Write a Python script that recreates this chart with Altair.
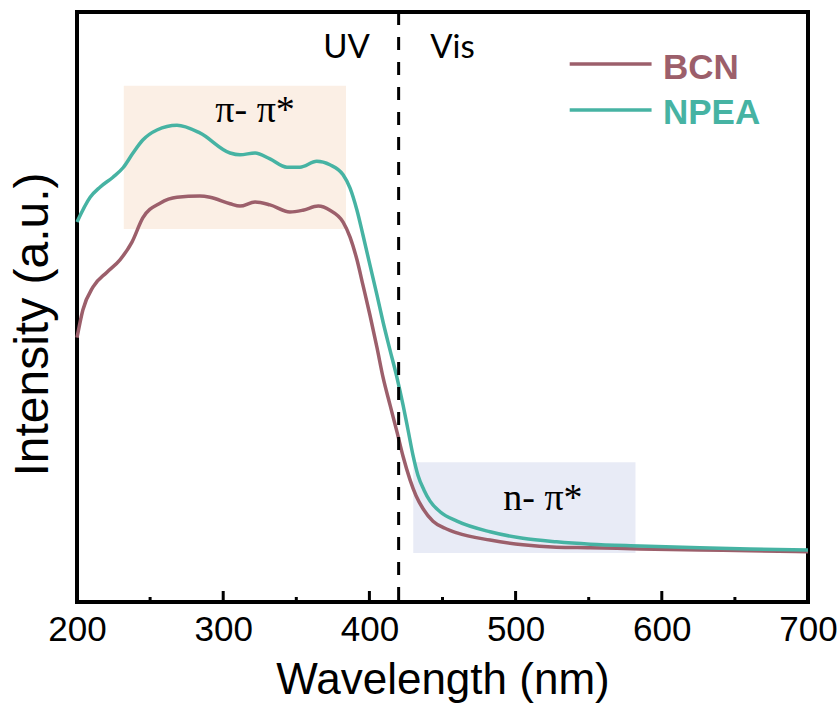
import altair as alt
import pandas as pd

# ---- data ----
bcn_wl = [200, 204, 211, 220.5, 229.4, 237.6, 245, 256.8, 268.4, 284, 291, 304.7, 311.5,
          321.8, 332, 345.6, 354.5, 365, 373, 382, 386.7, 391.5, 395.6, 400.4, 405.2,
          409.3, 414.1, 418.9, 423.0, 427.8, 431.9, 436.7, 443.5, 451.7, 459.9, 482.5,
          505, 528, 551, 585, 626, 660, 700]
bcn_int = [44.8, 49.5, 53.4, 55.9, 58.0, 61.0, 65.1, 67.6, 68.6, 68.8, 68.6, 67.5, 67.1,
           67.8, 67.3, 66.1, 66.4, 67.1, 66.4, 64.4, 61.9, 58.0, 53.7, 48.6, 43.1,
           38.1, 33.4, 28.8, 24.7, 20.7, 18.0, 15.8, 13.7, 12.5, 11.7, 10.5,
           9.7, 9.3, 9.2, 9.0, 8.8, 8.7, 8.5]

npea_wl = [200, 209, 215.7, 224.6, 231.5, 238.3, 245, 254.7, 268.4, 284, 304.7, 311.5,
           321.8, 332, 343.6, 352.5, 364, 373, 382, 386.7, 391.5, 395.6, 400.4, 405.2,
           409.3, 414.1, 418.9, 423.0, 426.4, 429.8, 433.2, 437.3, 441.5, 448.3, 459.9,
           482.5, 505, 528, 551, 585, 626, 660, 700]
npea_int = [64.4, 68.6, 70.3, 72.0, 73.6, 76.1, 78.3, 80.0, 80.8, 79.5, 76.1, 75.8,
            76.1, 75.1, 73.7, 73.7, 74.7, 74.1, 72.4, 70.2, 66.4, 62.2, 57.1, 52.0,
            47.5, 42.7, 38.0, 33.4, 29.2, 24.9, 21.5, 19.0, 17.1, 15.3, 13.7,
            11.9, 10.8, 10.2, 9.8, 9.5, 9.2, 9.0, 8.8]

series_names = ["BCN", "NPEA"]
series_colors = ["#9c5f6b", "#46b3a3"]

major_ticks = [200, 300, 400, 500, 600, 700]
minor_ticks = [250, 350, 450, 550, 650]

# shaded regions
region_x1 = [232, 430]
region_x2 = [384, 582]
region_y1 = [63.2, 8.3]
region_y2 = [87.5, 23.7]
region_colors = ["#fbefe5", "#e8ebf6"]

# annotations
ann_text = ["π- π*", "n- π*"]
ann_x = [321.8, 518.7]
ann_y = [81.4, 15.6]

band_text = ["UV", "Vis"]
band_x = [384.3, 456.8]
band_y = [92.2, 92.2]

divider_wl = [420]

legend_y = [91.2, 83.4]
legend_text_y = [88.7, 81.1]
legend_x1 = 537
legend_x2 = 593
legend_text_x = 600.8

# ---- build tables ----
lines_df = pd.concat([
    pd.DataFrame({"wl": bcn_wl, "inten": bcn_int, "series": "BCN"}),
    pd.DataFrame({"wl": npea_wl, "inten": npea_int, "series": "NPEA"}),
])
regions_df = pd.DataFrame({"x1": region_x1, "x2": region_x2, "y1": region_y1,
                           "y2": region_y2, "c": region_colors})
ann_df = pd.DataFrame({"t": ann_text, "x": ann_x, "y": ann_y})
band_df = pd.DataFrame({"t": band_text, "x": band_x, "y": band_y})
div_df = pd.DataFrame({"x": divider_wl})
major_df = pd.DataFrame({"x": major_ticks})
minor_df = pd.DataFrame({"x": minor_ticks})
leg_df = pd.DataFrame({"series": series_names, "y": legend_y, "ty": legend_text_y,
                       "x1": [legend_x1] * 2, "x2": [legend_x2] * 2,
                       "tx": [legend_text_x] * 2})

W, H = 731, 590
xscale = alt.Scale(domain=[200, 700], nice=False, zero=False)
yscale = alt.Scale(domain=[0, 100], nice=False, zero=False)
cscale = alt.Scale(domain=series_names, range=series_colors)

xax = alt.Axis(values=major_ticks, ticks=False, grid=False, domain=False,
               labelFontSize=35, labelFont="Liberation Sans", labelColor="black",
               labelPadding=10, labelFlush=False, labelOverlap=False,
               title="Wavelength (nm)", titleFontSize=44, titleFont="Liberation Sans",
               titleFontWeight="normal", titleColor="black", titlePadding=11)
yax = alt.Axis(labels=False, ticks=False, grid=False, domain=False,
               title="Intensity (a.u.)", titleFontSize=48, titleFont="Liberation Sans",
               titleFontWeight="normal", titleColor="black", titlePadding=20,
               titleY=312)

regions = alt.Chart(regions_df).mark_rect().encode(
    x=alt.X("x1:Q", scale=xscale, axis=xax),
    x2="x2:Q",
    y=alt.Y("y1:Q", scale=yscale, axis=yax),
    y2="y2:Q",
    color=alt.Color("c:N", scale=None),
)

lines = alt.Chart(lines_df).mark_line(strokeWidth=3.5, interpolate="monotone").encode(
    x=alt.X("wl:Q", scale=xscale),
    y=alt.Y("inten:Q", scale=yscale),
    color=alt.Color("series:N", scale=cscale, legend=None),
    detail="series:N",
)

divider = alt.Chart(div_df).mark_rule(color="black", strokeWidth=3, strokeDash=[13, 12]).encode(
    x=alt.X("x:Q", scale=xscale),
    y=alt.value(0), y2=alt.value(H),
)

maj = alt.Chart(major_df).mark_rule(color="black", strokeWidth=3).encode(
    x=alt.X("x:Q", scale=xscale), y=alt.value(H), y2=alt.value(H - 11))
mino = alt.Chart(minor_df).mark_rule(color="black", strokeWidth=3).encode(
    x=alt.X("x:Q", scale=xscale), y=alt.value(H), y2=alt.value(H - 5))

ann = alt.Chart(ann_df).mark_text(font="Liberation Serif", fontSize=38, align="center",
                                  baseline="alphabetic", color="black").encode(
    x=alt.X("x:Q", scale=xscale), y=alt.Y("y:Q", scale=yscale), text="t:N")

bands = alt.Chart(band_df).mark_text(font="Lato", fontSize=33, align="center",
                                     baseline="alphabetic", color="black").encode(
    x=alt.X("x:Q", scale=xscale), y=alt.Y("y:Q", scale=yscale), text="t:N")

leg_lines = alt.Chart(leg_df).mark_rule(strokeWidth=3.5).encode(
    x=alt.X("x1:Q", scale=xscale), x2="x2:Q",
    y=alt.Y("y:Q", scale=yscale),
    color=alt.Color("series:N", scale=cscale, legend=None))
leg_text = alt.Chart(leg_df).mark_text(font="Liberation Sans", fontSize=35, fontWeight="bold",
                                       align="left", baseline="alphabetic").encode(
    x=alt.X("tx:Q", scale=xscale), y=alt.Y("ty:Q", scale=yscale), text="series:N",
    color=alt.Color("series:N", scale=cscale, legend=None))

chart = alt.layer(regions, lines, divider, maj, mino, ann, bands, leg_lines, leg_text).properties(
    width=W, height=H,
    autosize=alt.AutoSizeParams(type="none"),
    padding={"left": 77, "top": 12, "right": 32, "bottom": 102},
    background="white",
).configure_view(stroke="black", strokeWidth=4)

chart.save("out.html", embed_options={"renderer": "svg", "actions": False})
